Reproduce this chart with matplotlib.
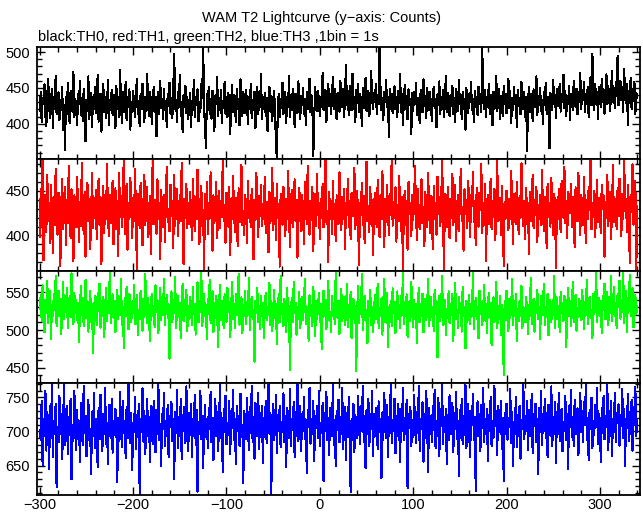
import numpy as np
import matplotlib
matplotlib.use("Agg")
import matplotlib.pyplot as plt
from matplotlib.ticker import MultipleLocator

plt.rcParams['font.family'] = ['Liberation Sans', 'DejaVu Sans']

# =========================
# data : 1 bin = 1 s, t = -300 .. 340
# =========================
time_s = np.arange(-300, 341)

th0_counts = [
    418, 445, 402, 436, 428, 455, 411, 397, 440, 462, 425, 408, 431, 449, 394, 438, 421, 467, 413, 429,
    444, 405, 433, 419, 452, 391, 426, 364, 438, 414, 457, 423, 401, 446, 430, 417, 472, 409, 435, 421,
    398, 441, 427, 459, 412, 436, 404, 448, 425, 376, 433, 418, 466, 407, 429, 443, 396, 437, 420, 451,
    415, 432, 468, 403, 426, 442, 389, 430, 455, 417, 438, 408, 424, 461, 399, 433, 419, 447, 412, 428,
    440, 394, 453, 421, 436, 410, 475, 427, 401, 444, 416, 432, 458, 405, 437, 423, 448, 392, 431, 417,
    446, 425, 409, 439, 463, 414, 428, 397, 442, 420, 456, 431, 403, 437, 418, 470, 426, 411, 445, 432,
    400, 427, 451, 416, 438, 383, 429, 444, 413, 460, 422, 435, 407, 448, 419, 431, 396, 442, 425, 457,
    414, 436, 408, 449, 497, 421, 433, 402, 445, 427, 468, 411, 430, 389, 440, 424, 453, 415, 437, 406,
    428, 443, 395, 432, 419, 461, 410, 438, 426, 448, 404, 430, 417, 455, 436, 512, 420, 399, 366, 441,
    425, 452, 413, 434, 407, 446, 421, 390, 439, 428, 465, 411, 436, 419, 447, 401, 432, 424, 458, 414,
    437, 409, 443, 422, 386, 431, 454, 416, 440, 427, 403, 449, 420, 435, 398, 462, 425, 411, 444, 430,
    415, 447, 426, 400, 438, 421, 456, 408, 433, 419, 445, 394, 429, 451, 413, 437, 424, 469, 406, 432,
    420, 443, 411, 436, 390, 428, 452, 417, 439, 404, 431, 446, 418, 372, 352, 425, 441, 409, 434, 422,
    457, 414, 430, 445, 401, 438, 423, 466, 410, 434, 419, 448, 427, 396, 442, 431, 415, 459, 424, 407,
    439, 426, 450, 413, 435, 399, 444, 421, 432, 463, 416, 440, 427, 355, 408, 452, 429, 418, 446, 433,
    411, 438, 424, 471, 419, 435, 447, 402, 430, 456, 425, 441, 414, 437, 465, 421, 449, 428, 406, 443,
    432, 417, 460, 436, 423, 448, 409, 439, 482, 426, 444, 412, 453, 431, 419, 470, 438, 425, 402, 447,
    429, 455, 416, 441, 433, 397, 450, 422, 439, 464, 418, 435, 446, 411, 428, 473, 437, 420, 443, 431,
    456, 413, 440, 427, 512, 448, 419, 436, 405, 445, 430, 461, 424, 438, 381, 449, 426, 442, 415, 434,
    452, 420, 437, 410, 446, 429, 469, 417, 441, 398, 433, 454, 421, 439, 406, 448, 427, 435, 386, 443,
    418, 444, 428, 457, 412, 436, 423, 401, 447, 431, 416, 462, 425, 439, 408, 450, 433, 419, 445, 427,
    404, 437, 451, 422, 434, 395, 441, 426, 459, 413, 438, 420, 447, 409, 432, 466, 417, 443, 429, 411,
    440, 425, 453, 414, 436, 402, 448, 430, 418, 461, 427, 439, 407, 444, 421, 434, 392, 450, 426, 415,
    442, 431, 458, 419, 435, 403, 446, 424, 437, 412, 452, 428, 441, 416, 507, 433, 420, 447, 409, 438,
    425, 456, 414, 440, 430, 398, 445, 421, 436, 467, 418, 432, 449, 407, 439, 424, 411, 453, 428, 442,
    415, 437, 463, 422, 446, 401, 433, 419, 451, 428, 440, 396, 447, 425, 436, 413, 458, 431, 420, 444,
    409, 438, 362, 427, 452, 416, 441, 430, 404, 448, 423, 435, 466, 412, 439, 426, 450, 418, 433, 400,
    445, 429, 457, 414, 437, 421, 366, 443, 432, 419, 461, 428, 440, 408, 449, 425, 436, 455, 417, 442,
    430, 468, 422, 446, 411, 439, 427, 453, 405, 441, 434, 419, 460, 436, 424, 449, 413, 444, 431, 471,
    420, 447, 435, 458, 416, 442, 428, 452, 410, 438, 465, 426, 497, 443, 419, 456, 432, 445, 407, 451,
    437, 424, 462, 430, 448, 414, 441, 469, 427, 453, 435, 418, 446, 474, 431, 449, 422, 458, 439, 495,
    426, 444, 460, 433, 451, 417, 476, 440, 429, 455, 398, 446, 437, 464, 421, 449, 432, 458, 414, 443,
    436,
]

th1_counts = [
    398, 452, 411, 489, 372, 431, 446, 404, 468, 419, 437, 391, 457, 426, 380, 443, 412, 475, 429, 401,
    448, 418, 366, 436, 463, 407, 425, 455, 389, 440, 414, 478, 431, 397, 452, 420, 371, 445, 433, 409,
    466, 425, 393, 438, 411, 482, 427, 402, 449, 376, 434, 459, 416, 441, 385, 423, 470, 408, 436, 420,
    451, 396, 429, 464, 412, 443, 368, 427, 456, 403, 437, 419, 480, 425, 399, 446, 414, 432, 461, 390,
    428, 453, 407, 439, 377, 470, 421, 444, 410, 435, 492, 402, 427, 458, 384, 436, 418, 465, 430, 397,
    442, 416, 475, 424, 361, 447, 433, 408, 459, 420, 389, 437, 468, 412, 431, 455, 398, 426, 444, 379,
    434, 487, 413, 440, 426, 402, 463, 419, 436, 374, 451, 428, 410, 446, 393, 438, 477, 415, 430, 405,
    457, 422, 439, 386, 468, 411, 433, 452, 399, 426, 445, 416, 482, 429, 368, 441, 420, 458, 408, 436,
    413, 449, 427, 395, 464, 432, 405, 443, 418, 474, 423, 390, 438, 456, 411, 429, 362, 447, 425, 460,
    402, 437, 419, 471, 428, 383, 445, 414, 433, 460, 397, 425, 450, 408, 439, 421, 486, 416, 434, 392,
    448, 426, 410, 455, 378, 436, 419, 467, 431, 404, 442, 424, 388, 453, 415, 437, 479, 412, 428, 401,
    446, 433, 392, 461, 420, 437, 409, 452, 425, 373, 440, 417, 470, 429, 398, 444, 422, 457, 411, 435,
    419, 466, 403, 438, 427, 381, 449, 414, 431, 476, 406, 426, 442, 395, 458, 420, 434, 365, 447, 428,
    412, 455, 430, 399, 441, 418, 472, 424, 387, 437, 451, 409, 429, 463, 416, 440, 375, 432, 453, 421,
    405, 446, 427, 390, 460, 434, 413, 478, 425, 401, 439, 417, 455, 382, 430, 447, 411, 469, 423, 436,
    396, 441, 420, 458, 409, 433, 488, 415, 428, 370, 449, 424, 438, 402, 461, 419, 432, 394, 445, 427,
    413, 471, 430, 406, 443, 418, 452, 385, 436, 425, 464, 410, 439, 396, 448, 422, 430, 476, 407, 434,
    450, 419, 367, 437, 428, 459, 412, 444, 391, 426, 483, 416, 433, 404, 455, 421, 440, 378, 431, 448,
    425, 409, 462, 436, 398, 445, 419, 472, 428, 387, 441, 415, 457, 430, 401, 447, 423, 489, 411, 438,
    420, 454, 393, 434, 416, 467, 426, 405, 443, 359, 431, 450, 412, 439, 384, 460, 424, 436, 399, 446,
    417, 441, 478, 429, 395, 452, 421, 407, 437, 463, 414, 432, 388, 449, 426, 410, 470, 433, 403, 444,
    428, 385, 456, 419, 437, 401, 466, 424, 443, 411, 430, 492, 418, 362, 447, 425, 409, 454, 436, 397,
    441, 420, 469, 412, 433, 457, 394, 428, 446, 405, 438, 475, 416, 431, 383, 452, 424, 440, 408, 461,
    427, 398, 445, 433, 471, 415, 436, 389, 453, 422, 410, 448, 429, 480, 403, 437, 419, 458, 371, 432,
    446, 413, 430, 464, 407, 439, 421, 452, 395, 434, 487, 416, 428, 442, 400, 456, 425, 366, 438, 419,
    450, 429, 406, 441, 418, 473, 431, 390, 447, 424, 413, 460, 436, 402, 444, 420, 481, 427, 411, 439,
    396, 453, 425, 437, 379, 449, 416, 432, 468, 408, 440, 423, 455, 393, 434, 419, 446, 412, 474, 428,
    405, 443, 430, 386, 458, 421, 436, 410, 465, 426, 400, 447, 433, 363, 440, 418, 452, 429, 404, 461,
    435, 420, 477, 414, 439, 397, 449, 425, 431, 458, 409, 443, 422, 387, 454, 432, 416, 470, 428, 401,
    446, 433, 412, 466, 424, 392, 440, 418, 455, 429, 484, 407, 437, 421, 450, 398, 434, 462, 415, 442,
    427, 403, 457, 430, 445, 376, 438, 420, 468, 411, 433, 449, 396, 426, 479, 415, 441, 430, 407, 453,
    422, 464, 434, 399, 447, 418, 490, 428, 441, 404, 457, 436, 369, 445, 426, 480, 412, 438, 461, 361,
    433,
]

th2_counts = [
    528, 546, 512, 559, 531, 497, 540, 522, 565, 509, 537, 551, 488, 533, 519, 547, 527, 571, 505, 536,
    552, 518, 541, 495, 529, 563, 514, 538, 524, 556, 502, 532, 545, 517, 575, 530, 508, 549, 523, 540,
    513, 536, 484, 527, 558, 520, 543, 505, 531, 566, 516, 539, 498, 527, 552, 511, 534, 470, 521, 545,
    530, 507, 549, 525, 561, 503, 538, 519, 544, 491, 528, 556, 512, 535, 522, 579, 509, 530, 547, 516,
    539, 497, 526, 553, 514, 536, 520, 568, 506, 531, 476, 542, 518, 557, 525, 501, 548, 533, 511, 537,
    522, 560, 508, 534, 546, 493, 527, 515, 552, 530, 499, 541, 517, 574, 526, 509, 543, 521, 485, 535,
    548, 518, 532, 504, 559, 524, 540, 496, 528, 555, 513, 537, 520, 568, 507, 531, 546, 516, 534, 462,
    527, 551, 511, 538, 523, 570, 503, 529, 545, 517, 536, 489, 525, 561, 512, 540, 520, 553, 499, 532,
    515, 544, 529, 506, 557, 521, 535, 494, 530, 563, 510, 538, 524, 579, 505, 527, 548, 518, 533, 488,
    541, 522, 566, 509, 530, 551, 497, 536, 516, 545, 527, 478, 532, 559, 513, 539, 522, 503, 547, 528,
    511, 556, 524, 537, 491, 529, 564, 515, 534, 502, 548, 520, 531, 574, 507, 526, 543, 496, 533, 518,
    552, 508, 535, 521, 569, 500, 530, 544, 514, 527, 458, 539, 523, 556, 511, 532, 501, 545, 518, 536,
    490, 527, 549, 513, 531, 520, 562, 506, 538, 499, 524, 553, 516, 534, 481, 528, 547, 510, 572, 521,
    535, 505, 541, 526, 498, 555, 517, 532, 447, 529, 542, 511, 563, 523, 536, 494, 530, 515, 550, 502,
    526, 543, 513, 537, 568, 508, 530, 521, 486, 546, 519, 533, 505, 557, 525, 492, 538, 514, 528, 549,
    510, 534, 475, 527, 552, 518, 540, 501, 531, 565, 513, 524, 497, 545, 520, 536, 508, 576, 527, 516,
    539, 495, 530, 554, 512, 528, 543, 506, 520, 561, 504, 533, 517, 550, 489, 526, 541, 514, 532, 446,
    523, 558, 509, 536, 521, 574, 500, 530, 545, 512, 527, 483, 538, 519, 553, 507, 531, 497, 524, 546,
    515, 532, 561, 503, 529, 518, 542, 494, 535, 568, 511, 526, 549, 477, 530, 516, 539, 505, 555, 522,
    537, 496, 528, 551, 514, 533, 502, 545, 520, 579, 508, 531, 518, 547, 491, 525, 538, 512, 563, 527,
    504, 540, 522, 535, 483, 529, 556, 510, 534, 519, 548, 497, 526, 541, 513, 532, 568, 505, 522, 544,
    517, 530, 499, 553, 521, 538, 464, 527, 545, 512, 533, 571, 506, 524, 540, 493, 528, 516, 551, 509,
    534, 520, 548, 486, 531, 562, 514, 527, 503, 543, 522, 536, 498, 557, 518, 530, 476, 539, 511, 525,
    546, 508, 533, 519, 575, 501, 528, 542, 515, 530, 489, 552, 521, 537, 507, 526, 560, 513, 534, 496,
    529, 549, 517, 536, 480, 524, 543, 510, 532, 564, 502, 527, 518, 545, 494, 533, 520, 441, 538, 513,
    552, 525, 499, 541, 516, 530, 567, 506, 535, 521, 547, 485, 528, 512, 539, 519, 558, 503, 531, 524,
    510, 544, 527, 495, 533, 518, 569, 508, 529, 541, 498, 537, 522, 553, 514, 530, 488, 545, 520, 535,
    561, 506, 531, 517, 548, 493, 526, 540, 511, 534, 520, 572, 503, 528, 543, 515, 532, 497, 550, 523,
    536, 512, 545, 527, 478, 531, 556, 519, 538, 505, 524, 563, 510, 533, 546, 499, 529, 517, 541, 526,
    513, 553, 530, 501, 537, 522, 566, 508, 534, 544, 516, 527, 489, 548, 521, 535, 576, 511, 530, 542,
    518, 539, 496, 545, 527, 561, 514, 532, 550, 506, 538, 523, 571, 512, 529, 557, 519, 536, 502, 548,
    531, 565, 515, 540, 524, 578, 509, 534, 551, 497, 542, 526, 573, 518, 537, 555, 504, 529, 546, 521,
    532,
]

th3_counts = [
    702, 688, 745, 651, 718, 694, 760, 672, 729, 710, 645, 737, 690, 775, 662, 715, 699, 741, 618, 706,
    684, 752, 697, 726, 659, 713, 770, 680, 704, 738, 667, 721, 695, 748, 630, 709, 686, 759, 700, 673,
    731, 692, 716, 655, 742, 705, 680, 767, 698, 723, 664, 711, 746, 687, 703, 637, 728, 694, 756, 676,
    719, 701, 648, 735, 689, 754, 707, 671, 725, 697, 764, 682, 712, 652, 739, 700, 691, 747, 669, 716,
    695, 733, 710, 626, 720, 686, 758, 703, 677, 744, 698, 714, 661, 736, 690, 769, 705, 683, 727, 644,
    713, 699, 751, 675, 724, 692, 740, 607, 718, 702, 763, 685, 730, 667, 708, 748, 693, 721, 656, 737,
    700, 682, 745, 716, 670, 732, 696, 771, 688, 711, 650, 726, 703, 757, 678, 715, 694, 739, 662, 722,
    707, 743, 686, 719, 631, 729, 698, 761, 676, 713, 694, 748, 659, 724, 701, 736, 683, 766, 709, 672,
    727, 695, 741, 663, 718, 704, 753, 680, 732, 612, 714, 697, 760, 689, 723, 646, 708, 739, 692, 718,
    676, 735, 703, 758, 684, 720, 658, 711, 747, 694, 729, 672, 706, 769, 690, 716, 640, 733, 699, 752,
    681, 712, 695, 744, 667, 726, 705, 761, 688, 718, 652, 737, 701, 723, 679, 755, 696, 710, 624, 730,
    714, 689, 749, 706, 673, 736, 698, 766, 684, 721, 660, 742, 709, 693, 757, 675, 727, 703, 738, 654,
    720, 692, 745, 683, 711, 768, 697, 727, 609, 716, 740, 687, 705, 753, 669, 724, 700, 738, 677, 714,
    699, 756, 685, 722, 648, 734, 710, 691, 762, 679, 717, 703, 743, 663, 728, 694, 770, 686, 711, 738,
    672, 725, 700, 751, 689, 715, 639, 731, 708, 764, 682, 719, 696, 745, 657, 723, 705, 737, 691, 759,
    678, 712, 698, 742, 627, 727, 701, 758, 687, 720, 666, 735, 708, 693, 771, 680, 716, 650, 730, 702,
    746, 684, 721, 697, 763, 675, 713, 736, 658, 727, 692, 750, 704, 611, 718, 688, 741, 670, 724, 706,
    690, 752, 711, 681, 737, 700, 767, 685, 722, 646, 731, 696, 748, 679, 714, 703, 760, 664, 726, 693,
    735, 709, 674, 744, 699, 719, 632, 728, 687, 757, 712, 691, 739, 662, 721, 706, 769, 683, 717, 700,
    748, 668, 723, 694, 740, 710, 655, 733, 701, 764, 688, 716, 697, 746, 617, 725, 705, 736, 678, 713,
    692, 754, 707, 683, 729, 698, 766, 671, 719, 703, 743, 656, 726, 690, 759, 711, 641, 735, 697, 722,
    685, 738, 702, 761, 676, 715, 693, 749, 664, 728, 708, 770, 682, 719, 699, 733, 652, 724, 687, 753,
    711, 696, 742, 670, 727, 704, 758, 689, 716, 635, 731, 700, 747, 681, 722, 695, 768, 676, 713, 740,
    698, 662, 730, 709, 755, 687, 721, 613, 714, 744, 693, 726, 671, 739, 705, 763, 684, 718, 697, 733,
    657, 724, 702, 750, 679, 716, 691, 767, 708, 730, 666, 737, 699, 712, 744, 674, 720, 628, 727, 696,
    741, 688, 719, 706, 762, 683, 729, 649, 714, 700, 751, 677, 724, 693, 738, 660, 717, 703, 769, 689,
    722, 701, 745, 673, 732, 694, 713, 755, 668, 726, 708, 741, 685, 719, 638, 734, 699, 760, 680, 715,
    705, 748, 690, 727, 663, 739, 711, 694, 766, 678, 721, 702, 743, 654, 729, 697, 756, 686, 718, 733,
    671, 714, 700, 752, 688, 725, 645, 737, 706, 761, 692, 718, 679, 746, 710, 696, 734, 665, 723, 757,
    699, 730, 684, 743, 712, 770, 687, 720, 658, 731, 703, 749, 676, 716, 695, 739, 707, 764, 682, 726,
    711, 656, 735, 698, 752, 689, 722, 706, 768, 673, 730, 694, 744, 664, 718, 701, 757, 685, 727, 712,
    740, 679, 724, 708, 762, 691, 733, 650, 719, 705, 755, 686, 728, 697, 746, 672, 736, 710, 765, 694,
    718,
]

series = [th0_counts, th1_counts, th2_counts, th3_counts]
colors = ["black", "#ff0000", "#00ff00", "#0000ff"]
y_limits = [(351, 507), (360, 486), (430, 578), (607, 771)]
x_limits = (-303, 343)


# =========================
# figure
# =========================
fig = plt.figure(figsize=(6.43, 5.15), dpi=100)

left, width = 37 / 643, 603 / 643
panel_h = 112 / 515
bottom0 = 1 - 495 / 515

for i in range(4):
    b = bottom0 + (3 - i) * panel_h
    ax = fig.add_axes([left, b, width, panel_h])
    ax.plot(time_s, series[i], color=colors[i], lw=0.8, antialiased=False)
    ax.set_xlim(*x_limits)
    ax.set_ylim(*y_limits[i])

    ax.xaxis.set_major_locator(MultipleLocator(100))
    ax.xaxis.set_minor_locator(MultipleLocator(20))
    ax.yaxis.set_major_locator(MultipleLocator(50))
    ax.yaxis.set_minor_locator(MultipleLocator(10))
    ax.tick_params(which="both", direction="in", top=True, right=True,
                   labelsize=10.5, width=1.0)
    ax.tick_params(axis="y", pad=5)
    ax.tick_params(axis="x", pad=2)
    ax.tick_params(which="major", length=6)
    ax.tick_params(which="minor", length=3.5)
    if i < 3:
        ax.tick_params(labelbottom=False)
    for s in ax.spines.values():
        s.set_linewidth(1.3)

fig.text(0.5, 1 - 18 / 515, "WAM T2 Lightcurve (y\u2212axis: Counts)",
         ha="center", va="center", fontsize=10.5)
fig.text(38 / 643, 1 - 37 / 515,
         "black:TH0, red:TH1, green:TH2, blue:TH3 ,1bin = 1s",
         ha="left", va="center", fontsize=10.5)

fig.savefig("out.png", dpi=100)
